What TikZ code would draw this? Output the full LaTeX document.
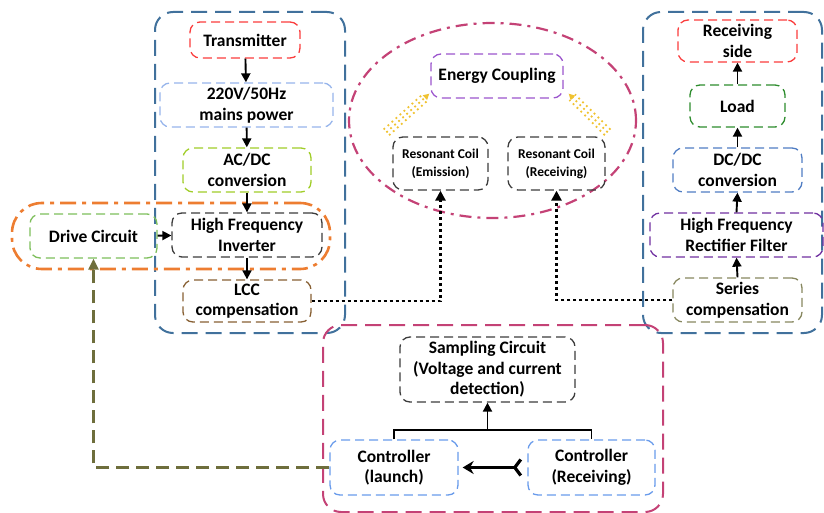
\documentclass[tikz,border=0pt]{standalone}
\usepackage{fontspec}
\setmainfont{Carlito}
\usetikzlibrary{
  arrows.meta,
  positioning,
  calc,
  shapes.geometric
}
\definecolor{grpblue}{RGB}{65,113,156}
\definecolor{grppink}{RGB}{196,66,118}
\definecolor{grporange}{RGB}{237,125,49}
\definecolor{txred}{RGB}{250,60,60}
\definecolor{mainsblue}{RGB}{150,180,235}
\definecolor{acdcgreen}{RGB}{160,205,40}
\definecolor{drivegreen}{RGB}{125,190,90}
\definecolor{darkbox}{RGB}{60,60,60}
\definecolor{lccbrown}{RGB}{135,95,50}
\definecolor{couplepurple}{RGB}{155,85,205}
\definecolor{sparkyellow}{RGB}{240,195,50}
\definecolor{loadgreen}{RGB}{45,140,45}
\definecolor{dcblue}{RGB}{80,125,195}
\definecolor{rectpurple}{RGB}{112,48,160}
\definecolor{seriesolive}{RGB}{135,135,95}
\definecolor{ctrlblue}{RGB}{105,155,235}
\definecolor{feedolive}{RGB}{110,110,60}
\tikzset{
  box/.style      = {draw, rounded corners=10pt, align=center, inner sep=0pt,
                     line width=1.3pt, dash pattern=on 9pt off 5pt,
                     font=\bfseries\fontsize{17.5}{20.5}\selectfont},
  coil/.style     = {box, draw=darkbox, font=\bfseries\fontsize{13.5}{18}\selectfont},
  grp/.style      = {draw, rounded corners=18pt, line width=2pt,
                     dash pattern=on 16pt off 8pt},
  arrow/.style    = {-{Triangle[length=9pt,width=9pt]}, line width=1.9pt},
  dotarrow/.style = {-{Triangle[length=10pt,width=10pt]}, line width=2.7pt,
                     dash pattern=on 3pt off 3pt},
  feed/.style     = {-{Triangle[length=11pt,width=10pt]}, feedolive,
                     line width=2.2pt, dash pattern=on 13pt off 7pt},
  spark/.style    = {sparkyellow, line width=1.8pt, dash pattern=on 1.8pt off 3.6pt},
}

\begin{document}
\begin{tikzpicture}[x=1pt, y=-1pt]
\path[use as bounding box] (0,0) rectangle (824,513);

% groups behind everything
\node[grp, draw=grpblue, minimum width=190pt, minimum height=321pt] (txgrp) at (250,172.5) {};
\node[grp, draw=grpblue, minimum width=179pt, minimum height=321pt] (rxgrp) at (732.5,172.5) {};
\node[grp, draw=grppink, minimum width=340pt, minimum height=187pt] (ctrlgrp) at (493,418.5) {};
\node[draw=grporange, rounded corners=30pt, line width=2.6pt,
      dash pattern=on 16pt off 6pt on 4pt off 6pt,
      minimum width=318pt, minimum height=66pt] (drvgrp) at (171,236) {};
\node[ellipse, draw=grppink, line width=2.2pt, inner sep=0pt,
      dash pattern=on 12pt off 6pt on 3pt off 6pt,
      minimum width=287pt, minimum height=195pt] (couple) at (492.5,120.5) {};

% transmitting side
\node[box, draw=txred, minimum width=110pt, minimum height=36pt] (trans) at (245,40) {Transmitter};
\node[box, draw=mainsblue, minimum width=173pt, minimum height=44pt] (mains) at (246.5,105) {220V/50Hz\\mains power};
\node[box, draw=acdcgreen, minimum width=128pt, minimum height=44pt] (acdc) at (247,170) {AC/DC\\conversion};
\node[box, draw=darkbox, minimum width=150pt, minimum height=44pt] (inv) at (247,235) {High Frequency\\Inverter};
\node[box, draw=drivegreen, minimum width=127pt, minimum height=44pt] (drive) at (93.5,236) {Drive Circuit};
\node[box, draw=lccbrown, minimum width=128pt, minimum height=42pt] (lcc) at (247,301) {LCC\\compensation};

% coupling
\node[box, draw=couplepurple, minimum width=132pt, minimum height=44pt] (energy) at (497,76) {Energy Coupling};
\node[coil, minimum width=95pt, minimum height=53pt] (emis) at (440.5,163.5) {Resonant Coil\\(Emission)};
\node[coil, minimum width=97pt, minimum height=53pt] (recv) at (556.5,163.5) {Resonant Coil\\(Receiving)};

% receiving side
\node[box, draw=txred, minimum width=119pt, minimum height=42pt] (rside) at (737.5,41) {Receiving\\side};
\node[box, draw=loadgreen, minimum width=95pt, minimum height=42pt] (load) at (737.5,106) {Load};
\node[box, draw=dcblue, minimum width=129pt, minimum height=44pt] (dcdc) at (737.5,170) {DC/DC\\conversion};
\node[box, draw=rectpurple, minimum width=173pt, minimum height=44pt] (rect) at (736.5,235) {High Frequency\\Rectifier Filter};
\node[box, draw=seriesolive, minimum width=129pt, minimum height=44pt] (series) at (737.5,300) {Series\\compensation};

% control
\node[box, draw=darkbox, minimum width=175pt, minimum height=65pt] (samp) at (487.5,369.5) {Sampling Circuit\\(Voltage and current\\detection)};
\node[box, draw=ctrlblue, minimum width=128pt, minimum height=55pt] (ctl) at (394,467.5) {Controller\\(launch)};
\node[box, draw=ctrlblue, minimum width=127pt, minimum height=55pt] (ctr) at (591.5,467.5) {Controller\\(Receiving)};

% power chain
\draw[arrow] (trans) -- (mains);
\draw[arrow] (mains) -- (acdc);
\draw[arrow] (acdc) -- (inv);
\draw[arrow] (inv) -- (lcc);
\draw[arrow] (drive) -- (inv);
\foreach \a/\b in {series/rect, rect/dcdc, dcdc/load, load/rside}
  \draw[arrow] (\a.north) -- (\b.south);

% links to the coils
\draw[dotarrow] (lcc.east) -| (emis.south);
\draw[dotarrow] (series.west) -| (recv.south);

% field between the coils
\foreach \o in {-1,1}{
  \draw[spark, shorten >=5pt] ([shift={(-6+2.7*\o,-4+2.9*\o)}]emis.north west)
    -- ([shift={(-1+2.7*\o,-5+2.9*\o)}]energy.south west);
  \draw[spark, shorten >=5pt] ([shift={(2+2.8*\o,-4-2.8*\o)}]recv.north east)
    -- ([shift={(5+2.8*\o,-5-2.8*\o)}]energy.south east);
}
\draw[spark, -{Triangle[length=6pt,width=6pt]}] ([shift={(-6,-4)}]emis.north west) -- ([shift={(-1,-5)}]energy.south west);
\draw[spark, -{Triangle[length=6pt,width=6pt]}] ([shift={(2,-4)}]recv.north east) -- ([shift={(5,-5)}]energy.south east);

% feedback loop
\coordinate (join) at (487.5,430);
\draw[line width=1.9pt] (ctl.north) |- (join) -| (ctr.north);
\draw[arrow] (join) -- (samp.south);
\draw[{Straight Barb[reversed,length=6pt,width=16pt]}-{Stealth[length=11pt,width=13pt]}, line width=3.2pt]
  ([xshift=-5pt]ctr.west) -- ([xshift=4pt]ctl.east);
\draw[feed] (ctl.west) -| (drive.south);
\end{tikzpicture}
\end{document}
